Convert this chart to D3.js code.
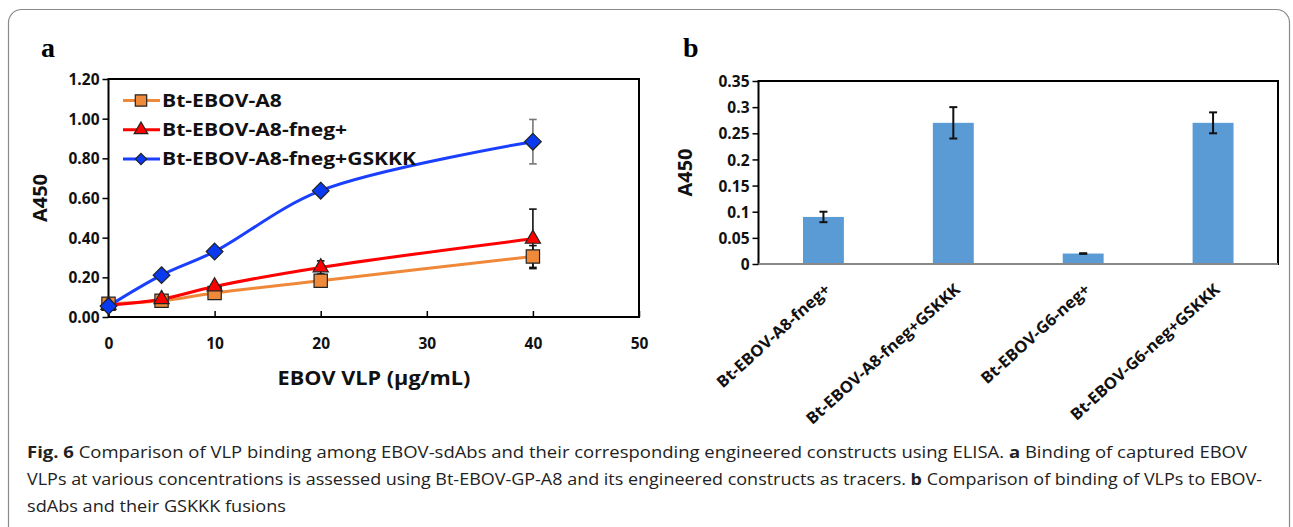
<!DOCTYPE html>
<html><head><meta charset="utf-8">
<script src="https://cdn.jsdelivr.net/npm/d3@7"></script>
<style>
html,body{margin:0;padding:0;background:#fff;}
svg text{font-family:"Open Sans",sans-serif;}
</style></head>
<body><svg id="c" width="1293" height="527"></svg>
<script>
// ---------- Data (panel a) ----------
const concentrations = [0, 5, 10, 20, 40];
const seriesNames = ["Bt-EBOV-A8", "Bt-EBOV-A8-fneg+", "Bt-EBOV-A8-fneg+GSKKK"];
const a8Values = [0.067, 0.082, 0.121, 0.183, 0.305];
const a8Errors = [0.01, 0.01, 0.01, 0.01, 0.055];
const fnegValues = [0.06, 0.09, 0.154, 0.25, 0.394];
const fnegErrors = [0.01, 0.01, 0.01, 0.033, 0.15];
const gskkkValues = [0.055, 0.211, 0.33, 0.637, 0.884];
const gskkkErrors = [0.01, 0.01, 0.02, 0.01, 0.112];
const yTicksA = [0, 0.2, 0.4, 0.6, 0.8, 1.0, 1.2];
const xTicksA = [0, 10, 20, 30, 40, 50];

// ---------- Data (panel b) ----------
const constructs = ["Bt-EBOV-A8-fneg+", "Bt-EBOV-A8-fneg+GSKKK", "Bt-EBOV-G6-neg+", "Bt-EBOV-G6-neg+GSKKK"];
const barValues = [0.09, 0.27, 0.02, 0.27];
const barErrors = [0.01, 0.03, 0.0005, 0.02];
const yTicksB = [0, 0.05, 0.1, 0.15, 0.2, 0.25, 0.3, 0.35];

const svg = d3.select("#c");
function stretch(sel, k) {
  sel.each(function () { const w = this.getComputedTextLength();
    d3.select(this).attr("textLength", w * k).attr("lengthAdjust", "spacingAndGlyphs"); });
}
const diamond = {draw(ctx, size) { const r = Math.sqrt(size / 2);
  ctx.moveTo(0, -r); ctx.lineTo(r, 0); ctx.lineTo(0, r); ctx.lineTo(-r, 0); ctx.closePath(); }};

// outer frame
svg.append("rect").attr("x", 8.5).attr("y", 9.5).attr("width", 1281).attr("height", 540)
  .attr("rx", 13).attr("fill", "none").attr("stroke", "#8a8a8a").attr("stroke-width", 1.2);

// panel letters
svg.append("text").attr("x", 41).attr("y", 57).text("a")
  .style("font-family", "'Liberation Serif',serif").style("font-weight", "bold").style("font-size", "28px");
svg.append("text").attr("x", 683).attr("y", 57).text("b")
  .style("font-family", "'Liberation Serif',serif").style("font-weight", "bold").style("font-size", "28px");

// ================= Panel a =================
const A = {l: 108.5, r: 639, t: 79, b: 317};
const xa = d3.scaleLinear().domain([0, 50]).range([A.l, A.r]);
const ya = d3.scaleLinear().domain([0, 1.2]).range([A.b, A.t]);
const ga = svg.append("g");

ga.append("g").attr("transform", `translate(${A.l},0)`)
  .call(d3.axisLeft(ya).tickValues(yTicksA).tickSize(6).tickFormat(d3.format(".2f")))
  .call(g => { g.select(".domain").remove();
    g.selectAll("line").attr("stroke", "#000").attr("stroke-width", 1.5);
    g.selectAll("text").attr("x", -9).attr("dy", "0.36em").attr("fill", "#111")
      .style("font-weight", "bold").style("font-size", "15.5px"); });
ga.append("g").attr("transform", `translate(0,${A.b})`)
  .call(d3.axisBottom(xa).tickValues(xTicksA).tickSize(-6).tickFormat(d3.format("d")))
  .call(g => { g.select(".domain").remove();
    g.selectAll("line").attr("stroke", "#000").attr("stroke-width", 1.5);
    g.selectAll("text").attr("y", 21).attr("fill", "#111")
      .style("font-weight", "bold").style("font-size", "15.5px"); });
ga.append("rect").attr("x", A.l).attr("y", A.t).attr("width", A.r - A.l).attr("height", A.b - A.t)
  .attr("fill", "none").attr("stroke", "#000").attr("stroke-width", 2);

ga.append("text").attr("transform", `translate(47,${(A.t + A.b) / 2}) rotate(-90)`)
  .attr("text-anchor", "middle").attr("fill", "#111").text("A450")
  .style("font-weight", "bold").style("font-size", "20px");
ga.append("text").attr("x", 374).attr("y", 385).attr("text-anchor", "middle").attr("fill", "#111")
  .text("EBOV VLP (µg/mL)").style("font-weight", "bold").style("font-size", "19px")
  .call(stretch, 1.14);

const series = [
  {name: seriesNames[0], vals: a8Values, errs: a8Errors, line: "#F0883A", fill: "#EE8A3A", err: "#111", shape: d3.symbolSquare, size: 177, lsize: 130},
  {name: seriesNames[1], vals: fnegValues, errs: fnegErrors, line: "#FF0000", fill: "#FF0000", err: "#111", shape: d3.symbolTriangle, size: 100, lsize: 80},
  {name: seriesNames[2], vals: gskkkValues, errs: gskkkErrors, line: "#1A3FFF", fill: "#0A3AF0", err: "#777", shape: diamond, size: 140, lsize: 64}
];

const lineGen = d3.line().x(d => xa(d[0])).y(d => ya(d[1])).curve(d3.curveCatmullRom.alpha(0.5));

series.forEach(s => {
  const pts = concentrations.map((c, i) => [c, s.vals[i], s.errs[i]]);
  const eg = ga.append("g");
  pts.forEach(p => {
    const x = xa(p[0]);
    eg.append("line").attr("x1", x).attr("x2", x).attr("y1", ya(p[1] - p[2])).attr("y2", ya(p[1] + p[2]))
      .attr("stroke", s.err).attr("stroke-width", 1.6);
    [p[1] - p[2], p[1] + p[2]].forEach(v => eg.append("line").attr("x1", x - 3.8).attr("x2", x + 3.8)
      .attr("y1", ya(v)).attr("y2", ya(v)).attr("stroke", s.err).attr("stroke-width", 1.6));
  });
  ga.append("path").datum(pts).attr("d", lineGen).attr("fill", "none")
    .attr("stroke", s.line).attr("stroke-width", 3);
});
series.forEach(s => {
  concentrations.forEach((c, i) => {
    ga.append("path").attr("d", d3.symbol().type(s.shape).size(s.size)())
      .attr("transform", `translate(${xa(c)},${ya(s.vals[i])})`)
      .attr("fill", s.fill).attr("stroke", "#222").attr("stroke-width", 1.2);
  });
});

// legend
series.forEach((s, i) => {
  const y = 100.5 + i * 29.3;
  ga.append("line").attr("x1", 123).attr("x2", 160).attr("y1", y).attr("y2", y)
    .attr("stroke", s.line).attr("stroke-width", 3);
  ga.append("path").attr("d", d3.symbol().type(s.shape).size(s.lsize)())
    .attr("transform", `translate(141,${y})`).attr("fill", s.fill).attr("stroke", "#222").attr("stroke-width", 1.2);
  ga.append("text").attr("x", 162).attr("y", y).attr("dy", "0.36em").attr("fill", "#111")
    .text(s.name).style("font-weight", "bold").style("font-size", "17px").call(stretch, 1.24);
});

// ================= Panel b =================
const B = {l: 758.5, r: 1278, t: 81, b: 264};
const xb = d3.scaleBand().domain(constructs).range([B.l, B.r]).paddingInner(0.685).paddingOuter(0.3425);
const yb = d3.scaleLinear().domain([0, 0.35]).range([B.b, B.t]);
const gb = svg.append("g");

gb.append("g").attr("transform", `translate(${B.l},0)`)
  .call(d3.axisLeft(yb).tickValues(yTicksB).tickSize(6).tickFormat(d => String(+d.toFixed(2))))
  .call(g => { g.select(".domain").remove();
    g.selectAll("line").attr("stroke", "#000").attr("stroke-width", 1.5);
    g.selectAll("text").attr("x", -9).attr("dy", "0.36em").attr("fill", "#111")
      .style("font-weight", "bold").style("font-size", "15.5px"); });

gb.selectAll("rect.bar").data(constructs).enter().append("rect").attr("class", "bar")
  .attr("x", d => xb(d)).attr("width", xb.bandwidth())
  .attr("y", (d, i) => yb(barValues[i])).attr("height", (d, i) => yb(0) - yb(barValues[i]))
  .attr("fill", "#5B9BD5");

constructs.forEach((c, i) => {
  const x = xb(c) + xb.bandwidth() / 2;
  const lo = yb(barValues[i] - barErrors[i]), hi = yb(barValues[i] + barErrors[i]);
  gb.append("line").attr("x1", x).attr("x2", x).attr("y1", lo).attr("y2", hi).attr("stroke", "#111").attr("stroke-width", 2);
  [lo, hi].forEach(y => gb.append("line").attr("x1", x - 4).attr("x2", x + 4).attr("y1", y).attr("y2", y)
    .attr("stroke", "#111").attr("stroke-width", 2));
});

gb.append("rect").attr("x", B.l).attr("y", B.t).attr("width", B.r - B.l).attr("height", B.b - B.t)
  .attr("fill", "none").attr("stroke", "#000").attr("stroke-width", 2);
gb.append("line").attr("x1", B.l).attr("x2", B.r).attr("y1", B.b).attr("y2", B.b).attr("stroke", "#888").attr("stroke-width", 2);

constructs.forEach(c => {
  const x = xb(c) + xb.bandwidth() / 2 + 8;
  gb.append("text").attr("transform", `translate(${x},291) rotate(-42)`).attr("text-anchor", "end")
    .attr("fill", "#111").text(c).style("font-weight", "bold").style("font-size", "16px").call(stretch, 1.04);
});

gb.append("text").attr("transform", `translate(692,${(B.t + B.b) / 2}) rotate(-90)`)
  .attr("text-anchor", "middle").attr("fill", "#111").text("A450")
  .style("font-weight", "bold").style("font-size", "20px");

// ================= Caption =================
const cap = svg.append("g").style("font-size", "15.5px").attr("fill", "#222");
const l1 = cap.append("text").attr("x", 27).attr("y", 458).attr("textLength", 1220).attr("lengthAdjust", "spacingAndGlyphs");
l1.append("tspan").style("font-weight", "bold").text("Fig. 6");
l1.append("tspan").text("  Comparison of VLP binding among EBOV-sdAbs and their corresponding engineered constructs using ELISA. ");
l1.append("tspan").style("font-weight", "bold").text("a");
l1.append("tspan").text(" Binding of captured EBOV");
const l2 = cap.append("text").attr("x", 27).attr("y", 485).attr("textLength", 1235).attr("lengthAdjust", "spacingAndGlyphs");
l2.append("tspan").text("VLPs at various concentrations is assessed using Bt-EBOV-GP-A8 and its engineered constructs as tracers. ");
l2.append("tspan").style("font-weight", "bold").text("b");
l2.append("tspan").text(" Comparison of binding of VLPs to EBOV-");
cap.append("text").attr("x", 27).attr("y", 512).attr("textLength", 259).attr("lengthAdjust", "spacingAndGlyphs")
  .text("sdAbs and their GSKKK fusions");
</script></body></html>
